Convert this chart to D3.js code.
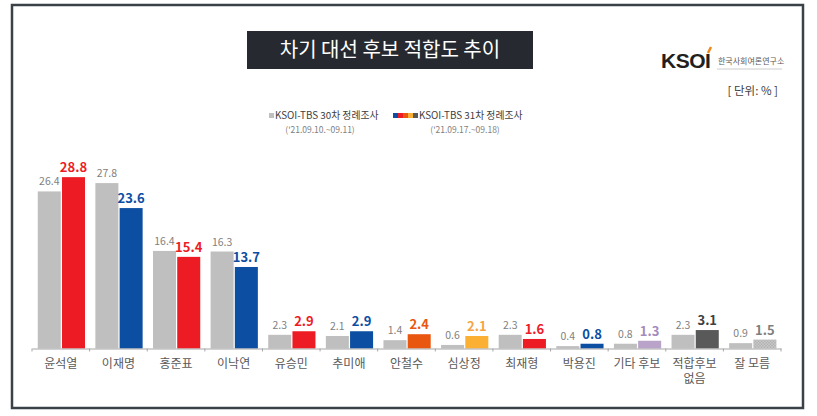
<!DOCTYPE html>
<html><head><meta charset="utf-8">
<script src="https://cdn.jsdelivr.net/npm/d3@7/dist/d3.min.js"></script>
<style>
html,body{margin:0;padding:0;background:#fff;}
svg{display:block;font-family:"Noto Sans CJK KR","Noto Sans",sans-serif;}
</style></head>
<body><svg id="c" width="817" height="416"></svg>
<script>
const categories = ["윤석열","이재명","홍준표","이낙연","유승민","추미애","안철수","심상정","최재형","박용진","기타 후보","적합후보\n없음","잘 모름"];
const series30 = [26.4,27.8,16.4,16.3,2.3,2.1,1.4,0.6,2.3,0.4,0.8,2.3,0.9];
const series31 = [28.8,23.6,15.4,13.7,2.9,2.9,2.4,2.1,1.6,0.8,1.3,3.1,1.5];
const colors31 = ["#ed1c24","#0b4ea2","#ed1c24","#0b4ea2","#ed1c24","#0b4ea2","#e8560f","#fbb034","#ed1c24","#0b4ea2","#b9a3c9","#595959","url(#dots)"];
const labelColors31 = ["#ed1c24","#0b4ea2","#ed1c24","#0b4ea2","#ed1c24","#0b4ea2","#e8560f","#f5a540","#ed1c24","#0b4ea2","#a58bbd","#404040","#7f7f7f"];
const seriesNames = ["KSOI-TBS 30차 정례조사","KSOI-TBS 31차 정례조사"];
const seriesDates = ["('21.09.10.~09.11)","('21.09.17.~09.18)"];
const legendSwatches = ["#0b4ea2","#ed1c24","#e8560f","#fbb034","#595959"];

const svg = d3.select("#c");
const defs = svg.append("defs");
const pat = defs.append("pattern").attr("id","dots").attr("width",3).attr("height",3).attr("patternUnits","userSpaceOnUse");
pat.append("rect").attr("width",3).attr("height",3).attr("fill","#d4d4d4");
pat.append("rect").attr("width",1.5).attr("height",1.5).attr("fill","#a6a6a6");
pat.append("rect").attr("x",1.5).attr("y",1.5).attr("width",1.5).attr("height",1.5).attr("fill","#a6a6a6");

// frame
svg.append("rect").attr("x",12).attr("y",5).attr("width",791).attr("height",403)
  .attr("fill","none").attr("stroke","#3b4149").attr("stroke-width",2.5);

// title
svg.append("rect").attr("x",247).attr("y",31).attr("width",286).attr("height",38).attr("fill","#262a30");
svg.append("text").attr("x",390).attr("y",57).attr("text-anchor","middle").attr("fill","#fff")
  .attr("font-size",20).text("차기 대선 후보 적합도 추이");

// logo
const lg = svg.append("g");
lg.append("text").attr("x",661).attr("y",68).attr("font-family","Liberation Sans, Arial, sans-serif")
  .attr("font-weight","bold").attr("font-size",21).attr("fill","#231f20").attr("letter-spacing",-0.5).text("KSOI");
lg.append("line").attr("x1",708).attr("y1",53).attr("x2",711).attr("y2",47).attr("stroke","#f08a1c").attr("stroke-width",2.5);
lg.append("text").attr("x",718).attr("y",64).attr("font-size",8).attr("fill","#595959").text("한국사회여론연구소");
lg.append("line").attr("x1",717).attr("y1",69).attr("x2",782).attr("y2",69).attr("stroke","#bfbfbf").attr("stroke-width",0.8);

svg.append("text").attr("x",778).attr("y",95).attr("text-anchor","end").attr("font-size",11.5).attr("fill","#404040").text("[ 단위: % ]");

// legend
const leg = svg.append("g").attr("font-size",9.8);
leg.append("rect").attr("x",269).attr("y",113).attr("width",5).attr("height",5).attr("fill","#bfbfbf");
leg.append("text").attr("x",275).attr("y",119).attr("fill","#404040").text(seriesNames[0]);
leg.append("text").attr("x",320).attr("y",133).attr("text-anchor","middle").attr("fill","#7f7f7f").attr("font-size",8.5).text(seriesDates[0]);
leg.selectAll("rect.sw").data(legendSwatches).join("rect").attr("class","sw")
  .attr("x",(d,i)=>393+i*5).attr("y",113).attr("width",5).attr("height",5).attr("fill",d=>d);
leg.append("text").attr("x",419).attr("y",119).attr("fill","#404040").text(seriesNames[1]);
leg.append("text").attr("x",465).attr("y",133).attr("text-anchor","middle").attr("fill","#7f7f7f").attr("font-size",8.5).text(seriesDates[1]);

// scales
const x0 = d3.scaleBand().domain(categories).range([32,781]);
const x1 = d3.scaleBand().domain([0,1]).range([x0.bandwidth()*0.1, x0.bandwidth()*0.92]).paddingInner(0.05);
const y = d3.scaleLinear().domain([0,30]).range([348.5, 348.5-178.5]);

const g = svg.append("g");
const rows = categories.map((c,i)=>({c,i,v:[series30[i],series31[i]]}));
const grp = g.selectAll("g.cat").data(rows).join("g").attr("transform",d=>`translate(${x0(d.c)},0)`);
grp.append("rect").attr("x",x1(0)).attr("width",x1.bandwidth()).attr("y",d=>y(d.v[0])).attr("height",d=>y(0)-y(d.v[0])).attr("fill","#bfbfbf");
grp.append("rect").attr("x",x1(1)).attr("width",x1.bandwidth()).attr("y",d=>y(d.v[1])).attr("height",d=>y(0)-y(d.v[1])).attr("fill",d=>colors31[d.i]);
grp.append("text").attr("x",x1(0)+x1.bandwidth()/2).attr("y",d=>y(d.v[0])-6).attr("text-anchor","middle")
  .attr("font-size",10.5).attr("fill","#7f7f7f").text(d=>d3.format(".1f")(d.v[0]));
grp.append("text").attr("x",x1(1)+x1.bandwidth()/2).attr("y",d=>y(d.v[1])-5).attr("text-anchor","middle")
  .attr("font-size",13).attr("font-weight","bold").attr("fill",d=>labelColors31[d.i]).text(d=>d3.format(".1f")(d.v[1]));

// axis
const ax = d3.axisBottom(x0).tickSize(0).tickFormat("");
const axg = svg.append("g").attr("transform",`translate(0,${y(0)})`).call(ax);
axg.select(".domain").attr("stroke","#a6a6a6").attr("stroke-width",1);
axg.selectAll(".bnd").data(categories.concat(["_end"])).join("line").attr("class","bnd")
  .attr("x1",(d,i)=>32+i*x0.step()).attr("x2",(d,i)=>32+i*x0.step()).attr("y1",0).attr("y2",3)
  .attr("stroke","#a6a6a6");

// category labels (one text per line)
const labelLines = [];
categories.forEach(c => c.split("\n").forEach((l,i)=>labelLines.push({c,l,i})));
svg.append("g").selectAll("text").data(labelLines).join("text")
  .attr("x",d=>x0(d.c)+x0.bandwidth()/2).attr("y",d=>368+d.i*15).attr("text-anchor","middle")
  .attr("font-size",12).attr("fill","#595959").text(d=>d.l);
</script></body></html>
